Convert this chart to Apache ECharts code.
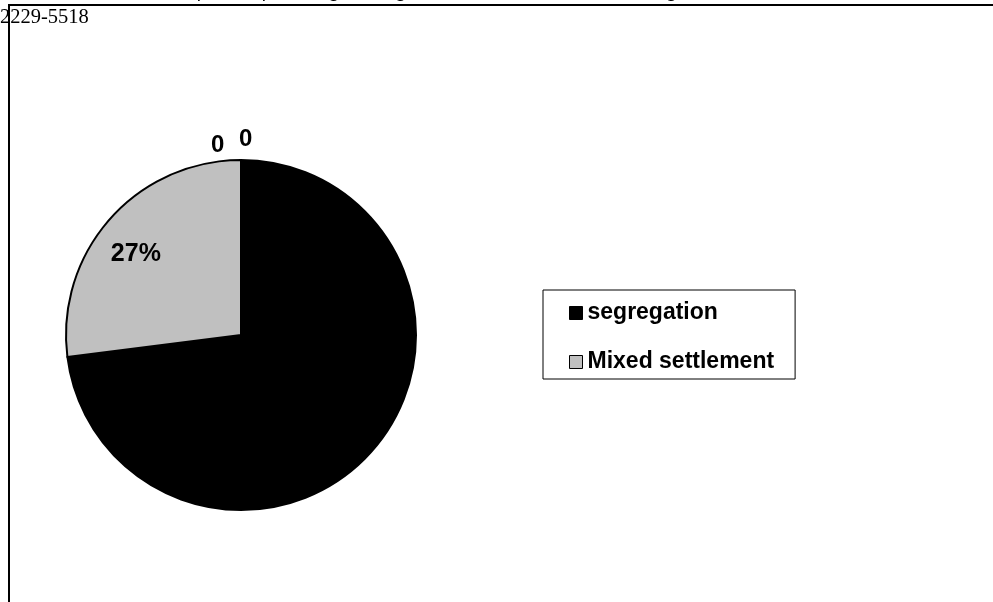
<!DOCTYPE html>
<html>
<head>
<meta charset="utf-8">
<script src="https://cdn.jsdelivr.net/npm/echarts@6/dist/echarts.min.js"></script>
<style>
html,body{margin:0;padding:0;background:#fff;}
#chart{width:993px;height:602px;}
</style>
</head>
<body>
<div id="chart"></div>
<script>
const categories = ['segregation', 'Mixed settlement'];
const values = [73, 27];
const sliceColors = ['#000000', '#c0c0c0'];
const percentLabels = ['', '27%'];
const zeroLabels = ['0', '0'];
const headerText = 'International Journal of Scientific & Engineering Research, Volume 4, Issue 8, August-2013';
const issnText = '2229-5518';

const chart = echarts.init(document.getElementById('chart'), null, {renderer: 'canvas'});

const pieData = categories.map((c, i) => ({
  name: c, value: values[i],
  itemStyle: {color: sliceColors[i]}
}));

const option = {
  animation: false,
  backgroundColor: '#ffffff',
  legend: {
    orient: 'vertical',
    left: 543,
    top: 290,
    data: categories.map((c, i) => ({
      name: c,
      itemStyle: {color: sliceColors[i], borderColor: '#000', borderWidth: 1}
    })),
    icon: 'rect',
    itemWidth: 13,
    itemHeight: 13,
    itemGap: 25,
    padding: [11, 21, 5, 26],
    borderColor: '#000',
    borderWidth: 1,
    textStyle: {
      fontFamily: 'Liberation Sans, Arial, sans-serif',
      fontWeight: 'bold',
      fontSize: 23,
      lineHeight: 24,
      color: '#000',
      padding: [0, 0, 0, 0]
    },
    selectedMode: false
  },
  series: [
    {
      type: 'pie',
      center: [241, 335],
      radius: [0, 175],
      startAngle: 90,
      clockwise: true,
      silent: true,
      label: {show: false},
      labelLine: {show: false},
      itemStyle: {borderColor: '#000', borderWidth: 2},
      data: pieData
    },
    {
      type: 'pie',
      center: [241, 335],
      radius: [90, 175],
      startAngle: 90,
      clockwise: true,
      silent: true,
      itemStyle: {color: 'transparent', borderWidth: 0},
      labelLine: {show: false},
      label: {
        show: true,
        position: 'inside',
        fontFamily: 'Liberation Sans, Arial, sans-serif',
        fontWeight: 'bold',
        fontSize: 25,
        lineHeight: 18,
        color: '#000',
        formatter: p => percentLabels[p.dataIndex] ? '\n' + percentLabels[p.dataIndex] + ' ' : ''
      },
      data: categories.map((c, i) => ({name: c, value: values[i]}))
    }
  ],
  graphic: [
    {type: 'text', left: 10, top: -19, style: {text: headerText, font: 'italic 20px "Liberation Serif", serif', fill: '#000'}},
    {type: 'text', left: 0, top: 7, style: {text: issnText, font: '20.5px "Liberation Serif", serif', fill: '#000'}},
    {type: 'line', shape: {x1: 8, y1: 5, x2: 993, y2: 5}, style: {stroke: '#000', lineWidth: 2}},
    {type: 'line', shape: {x1: 9, y1: 4, x2: 9, y2: 602}, style: {stroke: '#000', lineWidth: 2}},
    {type: 'text', x: 211, y: 133, style: {text: zeroLabels[0], font: 'bold 24px "Liberation Sans", Arial, sans-serif', fill: '#000'}},
    {type: 'text', x: 239, y: 127, style: {text: zeroLabels[1], font: 'bold 24px "Liberation Sans", Arial, sans-serif', fill: '#000'}}
  ]
};
chart.setOption(option);
</script>
</body>
</html>
